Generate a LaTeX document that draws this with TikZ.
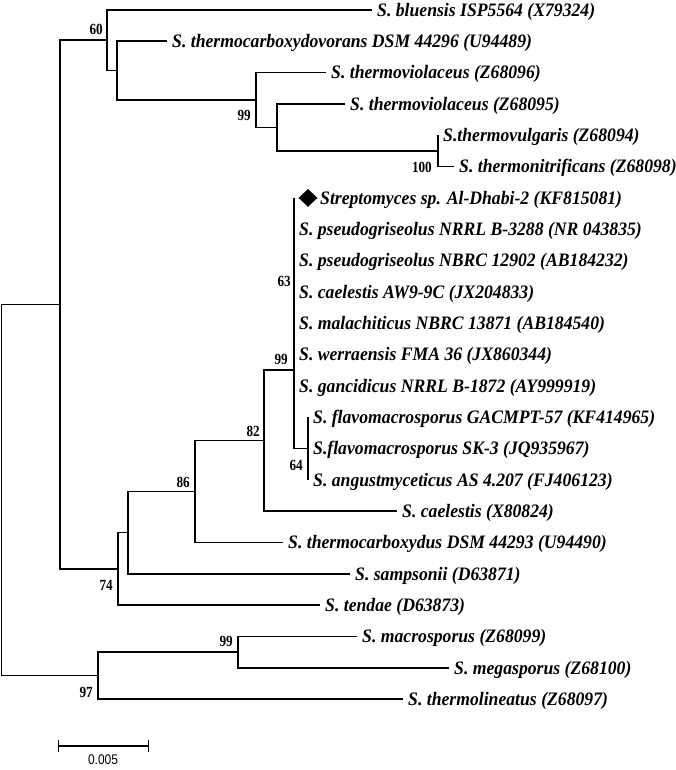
\documentclass[tikz,border=0pt]{standalone}
\usepackage{fontspec}
\setmainfont{Liberation Serif}[FakeStretch=0.93]
\newfontfamily\bootfont{Liberation Serif}[FakeStretch=0.85]
\newfontfamily\barfont{Liberation Sans}[FakeStretch=0.85]
\usetikzlibrary{shapes.geometric,arrows.meta}

\tikzset{
  branch/.style={line width=1.6pt},
  taxon/.style={anchor=west,inner xsep=5pt,inner ysep=0pt,text height=12.6pt,text depth=0pt,
    font=\fontsize{19}{22}\selectfont\bfseries\itshape},
  boot/.style={inner sep=0pt,font=\bootfont\fontsize{15.5}{17}\selectfont\bfseries},
}

\begin{document}
\begin{tikzpicture}[x=1pt,y=-1pt]
    \useasboundingbox (0,0) rectangle (676,770);
    % internal nodes
    \coordinate (root) at (1.5,490);
    \coordinate (nA) at (60,304.6);
    \coordinate (n60) at (107,40.3);
    \coordinate (nTC) at (117,70.7);
    \coordinate (n99a) at (256,100);
    \coordinate (nTV) at (277,127.5);
    \coordinate (n100) at (438,151);
    \coordinate (n74) at (118,568.9);
    \coordinate (nSM) at (128,532.6);
    \coordinate (n86) at (195,491.5);
    \coordinate (n82) at (264,440.6);
    \coordinate (n99b) at (294,370.2);
    \coordinate (n63) at (294,291.9);
    \coordinate (n64) at (308,448.5);
    \coordinate (n97) at (98,675.5);
    \coordinate (n99c) at (238,652);
    \coordinate (tAD) at (294,197.9);
    % taxa
    \node[taxon] (bluensis) at (372,10) {S. bluensis ISP5564 (X79324)};
    \node[taxon] (tcdovorans) at (167,41.3) {S. thermocarboxydovorans DSM 44296 (U94489)};
    \node[taxon] (tviolA) at (326,72.6) {S. thermoviolaceus (Z68096)};
    \node[taxon] (tviolB) at (345,104) {S. thermoviolaceus (Z68095)};
    \node[taxon] (tvulgaris) at (438,135.3) {S.thermovulgaris (Z68094)};
    \node[taxon] (tnitrif) at (454,166.6) {S. thermonitrificans (Z68098)};
    \node[diamond,fill=black,inner sep=0pt,minimum width=19pt,minimum height=18pt] (mark) at (308,197.9) {};
    \node[taxon] (alDhabi) at (315,197.9) {Streptomyces sp. Al-Dhabi-2 (KF815081)};
    \node[taxon] (pgNRRL) at (294,229.2) {S. pseudogriseolus NRRL B-3288 (NR 043835)};
    \node[taxon] (pgNBRC) at (294,260.6) {S. pseudogriseolus NBRC 12902 (AB184232)};
    \node[taxon] (caelAW) at (294,291.9) {S. caelestis AW9-9C (JX204833)};
    \node[taxon] (malach) at (294,323.2) {S. malachiticus NBRC 13871 (AB184540)};
    \node[taxon] (werra) at (294,354.5) {S. werraensis FMA 36 (JX860344)};
    \node[taxon] (ganci) at (294,385.8) {S. gancidicus NRRL B-1872 (AY999919)};
    \node[taxon] (flavGA) at (308,417.2) {S. flavomacrosporus GACMPT-57 (KF414965)};
    \node[taxon] (flavSK) at (308,448.5) {S.flavomacrosporus SK-3 (JQ935967)};
    \node[taxon] (angust) at (308,479.8) {S. angustmyceticus AS 4.207 (FJ406123)};
    \node[taxon] (caelX) at (397,511.1) {S. caelestis (X80824)};
    \node[taxon] (tcdus) at (283,542.4) {S. thermocarboxydus DSM 44293 (U94490)};
    \node[taxon] (samps) at (350,573.8) {S. sampsonii (D63871)};
    \node[taxon] (tendae) at (320,605.1) {S. tendae (D63873)};
    \node[taxon] (macro) at (357,636.4) {S. macrosporus (Z68099)};
    \node[taxon] (mega) at (449,667.7) {S. megasporus (Z68100)};
    \node[taxon] (tlin) at (403,699) {S. thermolineatus (Z68097)};
    % branches
    \draw[branch] (root) |- (nA);
    \draw[branch] (root) |- (n97);
    \draw[branch] (nA) |- (n60);
    \draw[branch] (nA) |- (n74);
    \draw[branch] (n60) |- (bluensis);
    \draw[branch] (n60) |- (nTC);
    \draw[branch] (nTC) |- (tcdovorans);
    \draw[branch] (nTC) |- (n99a);
    \draw[branch] (n99a) |- (tviolA);
    \draw[branch] (n99a) |- (nTV);
    \draw[branch] (nTV) |- (tviolB);
    \draw[branch] (nTV) |- (n100);
    \draw[branch] (n100) |- (tvulgaris);
    \draw[branch] (n100) |- (tnitrif);
    \draw[branch] (n74) |- (nSM);
    \draw[branch] (n74) |- (tendae);
    \draw[branch] (nSM) |- (n86);
    \draw[branch] (nSM) |- (samps);
    \draw[branch] (n86) |- (n82);
    \draw[branch] (n86) |- (tcdus);
    \draw[branch] (n82) |- (n99b);
    \draw[branch] (n82) |- (caelX);
    \draw[branch] (n99b) |- (n63);
    \draw[branch] (n99b) |- (n64);
    \draw[branch] (n63) |- (tAD);
    \draw[branch] (n63) |- (pgNRRL);
    \draw[branch] (n63) |- (pgNBRC);
    \draw[branch] (n63) |- (caelAW);
    \draw[branch] (n63) |- (malach);
    \draw[branch] (n63) |- (werra);
    \draw[branch] (n63) |- (ganci);
    \draw[branch] (n64) |- (flavGA);
    \draw[branch] (n64) |- (flavSK);
    \draw[branch] (n64) |- (angust);
    \draw[branch] (n97) |- (n99c);
    \draw[branch] (n97) |- (tlin);
    \draw[branch] (n99c) |- (macro);
    \draw[branch] (n99c) |- (mega);
    % bootstrap values
    \node[boot,anchor=south east] (b60) at (103,35) {60};
    \node[boot,anchor=north east] (b99a) at (251,110) {99};
    \node[boot,anchor=east] (b100) at (432,167) {100};
    \node[boot,anchor=south east] (b63) at (291,287) {63};
    \node[boot,anchor=south east] (b99b) at (288,365) {99};
    \node[boot,anchor=south east] (b82) at (260,437) {82};
    \node[boot,anchor=north east] (b64) at (303,460) {64};
    \node[boot,anchor=south east] (b86) at (190,488) {86};
    \node[boot,anchor=north east] (b74) at (113,580) {74};
    \node[boot,anchor=south east] (b99c) at (233,647) {99};
    \node[boot,anchor=north east] (b97) at (93,687) {97};
    % scale bar
    \coordinate (s0) at (58,746);
    \coordinate (s1) at (149,746);
    \draw[line width=1.4pt,{Bar[width=12pt]}-{Bar[width=12pt]}] (s0) -- (s1);
    \node[font=\barfont\fontsize{14}{16}\selectfont] (scale) at (103,760) {0.005};
\end{tikzpicture}
\end{document}
